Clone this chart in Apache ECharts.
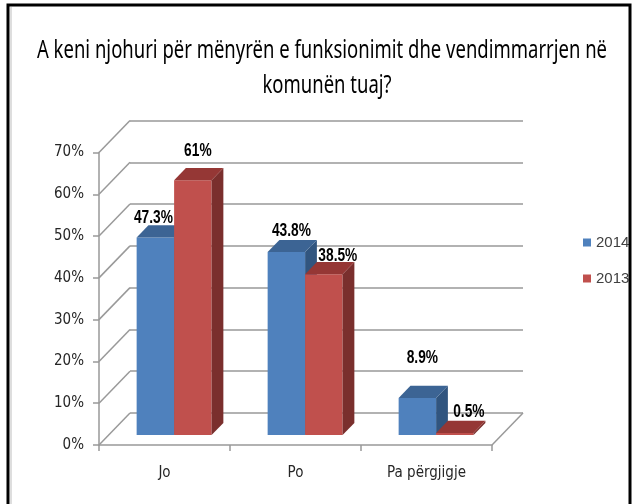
<!DOCTYPE html>
<html>
<head>
<meta charset="utf-8">
<script src="https://cdn.jsdelivr.net/npm/echarts@6/dist/echarts.min.js"></script>
<style>
  html, body { margin: 0; padding: 0; background: #fff; }
  #chart { width: 634px; height: 504px; }
</style>
</head>
<body>
<div id="chart"></div>
<script>
// data
const categories = ["Jo", "Po", "Pa përgjigje"];
const values2014 = [47.3, 43.8, 8.9];
const values2013 = [61, 38.5, 0.5];
const yTicks = [0, 10, 20, 30, 40, 50, 60, 70];
const titleLines = ["A keni njohuri për mënyrën e funksionimit dhe vendimmarrjen në", "komunën tuaj?"];

// look
const FONT = "'DejaVu Sans Condensed', 'Liberation Sans', sans-serif";
const TITLE_FONT = "25px 'Noto Sans', sans-serif";
const LABEL_FONT = "bold 18px 'Liberation Sans', sans-serif";
const GRID_GRAY = "#999999";
const DX = 31, DY = -32; // depth of the 3d box, px
const FRONT = 0.31, DEPTH = 0.38; // bar position inside the depth
const BAR_W = 0.286; // share of a category for each bar
// label nudges [dx, dy] from top centre of the bar front face
const nudge2014 = [[-2, -19], [5, -21], [5, -40]];
const nudge2013 = [[5, -29], [14, -18], [14, -21]];

const colors = {
  "2014": { front: "#4f81bd", top: "#3c6494", side: "#31557f" },
  "2013": { front: "#c0504d", top: "#953735", side: "#7a2f2d" },
};

// the reference text is narrow (Calibri), squeeze wider fonts to fit
let ctx = document.createElement("canvas").getContext("2d");
ctx.font = TITLE_FONT;
let titleScale = 570 / ctx.measureText(titleLines[0]).width;
ctx.font = LABEL_FONT;
let labelScale = 39 / ctx.measureText("47.3%").width;

let chart = echarts.init(document.getElementById("chart"));

let wallItem = (params, api) => {
  let cs = params.coordSys;
  let v = api.value(1);
  let y = api.coord([0, v])[1];
  let style = { stroke: GRID_GRAY, lineWidth: 1.5 };
  let children = [
    { type: "line", shape: { x1: cs.x, y1: y, x2: cs.x + DX, y2: y + DY }, style: style },
  ];
  if (v === 0) {
    let xr = cs.x + cs.width;
    children.push({ type: "line", shape: { x1: xr, y1: y, x2: xr + DX, y2: y + DY }, style: style });
  }
  return { type: "group", children: children };
};

let barItem = (slot, key, nudges) => (params, api) => {
  let i = api.value(0);
  let v = api.value(1);
  let top = api.coord([i, v]);
  let base = api.coord([i, 0]);
  let cw = api.size([1, 0])[0];
  let bw = cw * BAR_W;
  let fx = DX * FRONT, fy = DY * FRONT;
  let dx = DX * DEPTH, dy = DY * DEPTH;
  let x0 = base[0] - bw + slot * bw + fx;
  let yt = top[1] + fy;
  let yb = base[1] + fy;
  let c = colors[key];
  let n = nudges[i];
  return {
    type: "group",
    children: [
      { type: "rect", shape: { x: x0, y: yt, width: bw, height: yb - yt }, style: { fill: c.front } },
      {
        type: "polygon",
        shape: { points: [[x0 + bw, yt], [x0 + bw + dx, yt + dy], [x0 + bw + dx, yb + dy], [x0 + bw, yb]] },
        style: { fill: c.side },
      },
      {
        type: "polygon",
        shape: { points: [[x0, yt], [x0 + dx, yt + dy], [x0 + bw + dx, yt + dy], [x0 + bw, yt]] },
        style: { fill: c.top },
      },
      {
        type: "text",
        x: x0 + bw / 2 + n[0],
        y: yt + n[1],
        scaleX: labelScale,
        style: {
          text: v + "%",
          fill: "#000",
          font: LABEL_FONT,
          align: "center",
          verticalAlign: "middle",
        },
      },
    ],
  };
};

let option = {
  backgroundColor: "#fff",
  animation: false,
  legend: {
    data: ["2014", "2013"],
    orient: "vertical",
    left: 578,
    top: 230,
    itemWidth: 8,
    itemHeight: 8,
    itemGap: 21,
    icon: "rect",
    selectedMode: false,
    textStyle: { fontFamily: "'Liberation Sans', sans-serif", fontSize: 15, color: "#404040", lineHeight: 15 },
  },
  graphic: [
    {
      type: "text",
      x: 322,
      y: 51,
      scaleX: titleScale,
      style: { text: titleLines[0], font: TITLE_FONT, fill: "#000", align: "center", verticalAlign: "middle" },
    },
    {
      type: "text",
      x: 327,
      y: 86,
      scaleX: titleScale,
      style: { text: titleLines[1], font: TITLE_FONT, fill: "#000", align: "center", verticalAlign: "middle" },
    },
    { type: "rect", shape: { x: 8, y: 5, width: 622, height: 520 }, style: { fill: null, stroke: "#000", lineWidth: 3 }, z: 100 },
    { type: "line", shape: { x1: 11, y1: 7, x2: 11, y2: 504 }, style: { stroke: "#bdbdbd", lineWidth: 1 }, z: 100 },
  ],
  grid: [
    { left: 99, top: 152.5, width: 393, height: 292.5 },
    { left: 99 + DX, top: 152.5 + DY, width: 393, height: 292.5 },
  ],
  xAxis: [
    {
      type: "category",
      gridIndex: 0,
      data: categories,
      axisLine: { lineStyle: { color: GRID_GRAY, width: 1.5 } },
      axisTick: { show: true, length: 6, lineStyle: { color: GRID_GRAY, width: 1.5 } },
      axisLabel: { fontFamily: FONT, fontSize: 15, color: "#262626", margin: 21 },
      splitLine: { show: false },
    },
    {
      type: "category",
      gridIndex: 1,
      data: categories,
      show: false,
    },
  ],
  yAxis: [
    {
      type: "value",
      gridIndex: 0,
      min: 0,
      max: 70,
      interval: 10,
      axisLine: { show: true, lineStyle: { color: GRID_GRAY, width: 1.5 } },
      axisTick: { show: true, length: 6, lineStyle: { color: GRID_GRAY, width: 1.5 } },
      axisLabel: { fontFamily: FONT, fontSize: 15, color: "#262626", margin: 15, formatter: "{value}%" },
      splitLine: { show: false },
    },
    {
      type: "value",
      gridIndex: 1,
      min: 0,
      max: 70,
      interval: 10,
      axisLine: { show: false },
      axisTick: { show: false },
      axisLabel: { show: false },
      splitLine: { show: true, lineStyle: { color: GRID_GRAY, width: 1.5 } },
    },
  ],
  series: [
    {
      type: "custom",
      name: "walls",
      xAxisIndex: 0,
      yAxisIndex: 0,
      renderItem: wallItem,
      data: yTicks.map((v) => [0, v]),
      encode: { x: 0, y: 1 },
      silent: true,
      z: 1,
    },
    {
      type: "custom",
      name: "2014",
      xAxisIndex: 0,
      yAxisIndex: 0,
      itemStyle: { color: colors["2014"].front },
      renderItem: barItem(0, "2014", nudge2014),
      data: values2014.map((v, i) => [i, v]),
      encode: { x: 0, y: 1 },
      z: 3,
    },
    {
      type: "custom",
      name: "2013",
      xAxisIndex: 0,
      yAxisIndex: 0,
      itemStyle: { color: colors["2013"].front },
      renderItem: barItem(1, "2013", nudge2013),
      data: values2013.map((v, i) => [i, v]),
      encode: { x: 0, y: 1 },
      z: 4,
    },
  ],
};

chart.setOption(option);
</script>
</body>
</html>
